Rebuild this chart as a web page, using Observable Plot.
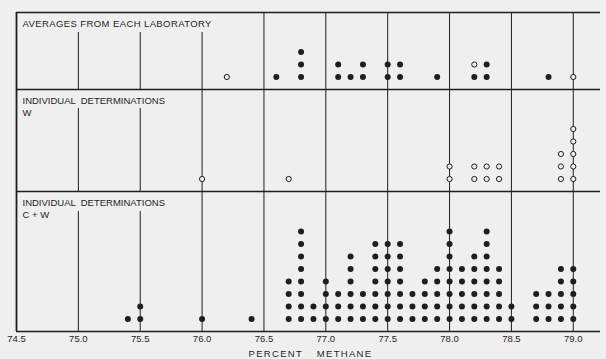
<!DOCTYPE html>
<html>
<head>
<meta charset="utf-8">
<script src="https://cdn.jsdelivr.net/npm/d3@7"></script>
<script src="https://cdn.jsdelivr.net/npm/@observablehq/plot@0.6"></script>
<style>
  html, body { margin: 0; padding: 0; background: #efefef; }
  #chart svg { display: block; }
</style>
</head>
<body>
<div id="chart"></div>
<script>
// ---- Data ----
// Panel 1: averages from each laboratory (filled and open symbols, stacked filled first)
const avgX      = [76.2, 76.6, 76.8, 77.1, 77.2, 77.3, 77.5, 77.6, 77.9, 78.2, 78.3, 78.8, 79.0];
const avgFilled = [0,    1,    3,    2,    1,    2,    2,    2,    1,    1,    2,    1,    0];
const avgOpen   = [1,    0,    0,    0,    0,    0,    0,    0,    0,    1,    0,    0,    1];
// Panel 2: individual determinations W (open symbols)
const wX     = [76.0, 76.7, 78.0, 78.2, 78.3, 78.4, 78.9, 79.0];
const wCount = [1,    1,    2,    2,    2,    2,    3,    5];
// Panel 3: individual determinations C + W (filled symbols)
const cwX     = [75.4, 75.5, 76.0, 76.4, 76.7, 76.8, 76.9, 77.0, 77.1, 77.2, 77.3, 77.4, 77.5, 77.6,
                 77.7, 77.8, 77.9, 78.0, 78.1, 78.2, 78.3, 78.4, 78.5, 78.7, 78.8, 78.9, 79.0];
const cwCount = [1,    2,    1,    1,    4,    8,    2,    4,    3,    6,    3,    7,    7,    7,
                 3,    4,    5,    8,    5,    6,    8,    5,    2,    3,    3,    5,    5];
// Labels
const panelTitles = ["AVERAGES FROM EACH LABORATORY", "INDIVIDUAL  DETERMINATIONS\nW", "INDIVIDUAL  DETERMINATIONS\nC + W"];
const xTicks = [74.5, 75.0, 75.5, 76.0, 76.5, 77.0, 77.5, 78.0, 78.5, 79.0];
const gridX  = [75.0, 75.5, 76.0, 76.5, 77.0, 77.5, 78.0, 78.5, 79.0];
const xLabel = "PERCENT METHANE";

// ---- Layout (row units: one stacked symbol per unit) ----
const W = 606, H = 359;
const mTop = 12, mBottom = 28, mLeft = 16, mRight = 6;
const rowPx = 12.5;
const yMax = (H - mTop - mBottom) / rowPx;     // top border
const base3 = 0;                                // C+W panel bottom
const base2 = 140 / rowPx;                      // W panel bottom
const base1 = 242 / rowPx;                      // averages panel bottom
const bases = [base1, base2, base3];
const tops  = [yMax, base1, base2];
const xMin = 74.5, xMax = 79.22;

// expand counts into stacked points
function stack(xs, counts, base, start = null) {
  const out = [];
  xs.forEach((x, i) => {
    const s = start ? start[i] : 0;
    for (let k = 1; k <= counts[i]; k++) out.push({x, y: base + s + k});
  });
  return out;
}
const avgFilledPts = stack(avgX, avgFilled, base1);
const avgOpenPts   = stack(avgX, avgOpen, base1, avgFilled);
const wPts  = stack(wX, wCount, base2);
const cwPts = stack(cwX, cwCount, base3);

// gridlines: left ones are shortened under the panel titles
const titleGap = [(331 - 32) / rowPx, (331 - 108) / rowPx, (331 - 211) / rowPx];
const shortCount = [3, 2, 2];
const grid = [];
for (let p = 0; p < 3; p++) {
  gridX.forEach((x, i) => {
    grid.push({x, y1: bases[p], y2: i < shortCount[p] ? titleGap[p] : tops[p]});
  });
}
const hLines = [0, base2, base1, yMax];

const ink = "#1e1e1e";
const bg = "#efefef";
const font = "'Liberation Sans', Arial, Helvetica, sans-serif";

const plot = Plot.plot({
  width: W, height: H,
  marginTop: mTop, marginBottom: mBottom, marginLeft: mLeft, marginRight: mRight,
  style: {background: bg, fontFamily: font, fontSize: "9.5px", color: ink},
  x: {domain: [xMin, xMax], label: null},
  y: {domain: [0, yMax], axis: null},
  marks: [
    Plot.ruleX(grid, {x: "x", y1: "y1", y2: "y2", stroke: ink, strokeWidth: 1}),
    Plot.ruleY(hLines, {x1: xMin, x2: xMax, y: d => d, stroke: ink, strokeWidth: 1.6}),
    Plot.ruleX([xMin], {y1: 0, y2: yMax, stroke: ink, strokeWidth: 1.8}),
    Plot.dot(cwPts, {x: "x", y: "y", r: 3, fill: ink, stroke: "none"}),
    Plot.dot(avgFilledPts, {x: "x", y: "y", r: 3, fill: ink, stroke: "none"}),
    Plot.dot(avgOpenPts, {x: "x", y: "y", r: 2.6, fill: bg, stroke: ink, strokeWidth: 1}),
    Plot.dot(wPts, {x: "x", y: "y", r: 2.6, fill: bg, stroke: ink, strokeWidth: 1}),
    Plot.text(panelTitles, {x: xMin, y: (d, i) => tops[i], dx: 6, dy: 5.5,
      textAnchor: "start", lineAnchor: "top", lineHeight: 1.27, fill: ink, fontSize: 9.5}),
    Plot.axisX({ticks: xTicks, tickFormat: d => d.toFixed(1), tickSize: 0, tickPadding: 4, label: null, fontSize: 9.5}),
    Plot.text([xLabel], {frameAnchor: "bottom", dy: 19, dx: 2, lineAnchor: "top", fill: ink, fontSize: 9.5})
  ]
});

d3.select(plot).selectAll("text").filter(function() { return this.textContent === xLabel; })
  .style("letter-spacing", "1.3px").style("word-spacing", "10px");
d3.select(plot).selectAll("text").filter(function() { return this.textContent === panelTitles[0]; })
  .style("letter-spacing", "0.4px");

document.getElementById("chart").appendChild(plot);
</script>
</body>
</html>
